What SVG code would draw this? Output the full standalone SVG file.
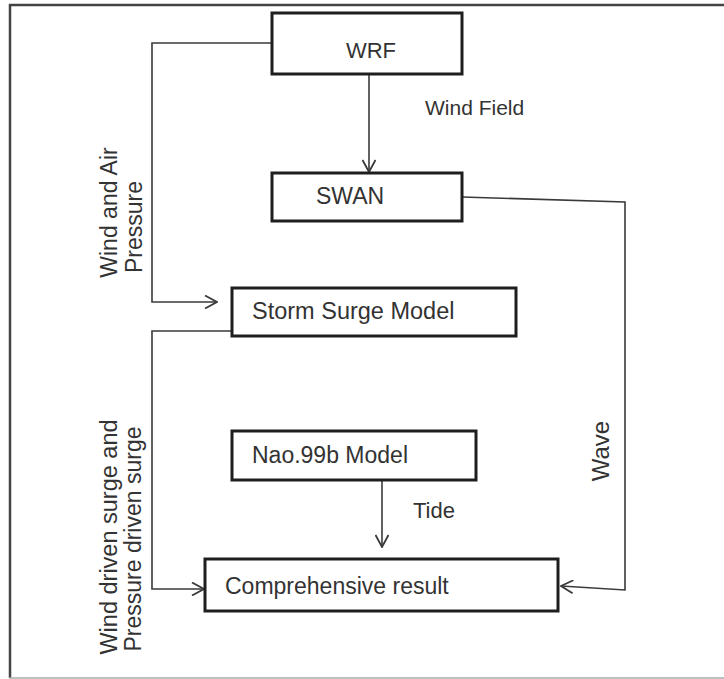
<svg xmlns="http://www.w3.org/2000/svg" width="724" height="679" viewBox="0 0 724 679">
<defs>
<marker id="arr" viewBox="0 0 14 14" refX="13" refY="7" markerWidth="14" markerHeight="14" markerUnits="userSpaceOnUse" orient="auto">
<path d="M1,0.5 L13,7 L1,13.5" fill="none" stroke="#3a3a3a" stroke-width="1.8"/>
</marker>
</defs>
<style>
.box{fill:#fff;stroke:#1e1e1e;stroke-width:3}
.lbl{font-family:"Liberation Sans",Arial,sans-serif;fill:#333;font-size:23px}
.con{fill:none;stroke:#3a3a3a;stroke-width:1.6}
</style>
<rect x="0" y="0" width="724" height="679" fill="#fff"/>
<g id="frame">
<line x1="9" y1="5" x2="724" y2="5" stroke="#444" stroke-width="2.5"/>
<line x1="10" y1="4" x2="10" y2="678" stroke="#444" stroke-width="2.5"/>
<line x1="9" y1="678" x2="724" y2="678" stroke="#aaa" stroke-width="1.5"/>
</g>
<g id="connectors">
<path class="con" d="M369,74 L369,172" marker-end="url(#arr)"/>
<path class="con" d="M272,43 L152,43 L152,302 L217,302" marker-end="url(#arr)"/>
<path class="con" d="M232,331 L152,331 L152,589 L204,589" marker-end="url(#arr)"/>
<path class="con" d="M462,197 L625,202 L625,590 L561,586" stroke-width="2" marker-end="url(#arr)"/>
<path class="con" d="M382,480 L382,547" marker-end="url(#arr)"/>
<text class="lbl" x="425" y="115" style="font-size:21px">Wind Field</text>
<text class="lbl" x="413" y="518" style="font-size:22px">Tide</text>
<text class="lbl" transform="translate(117,212.5) rotate(-90)" text-anchor="middle">Wind and Air</text>
<text class="lbl" transform="translate(142,227) rotate(-90)" text-anchor="middle">Pressure</text>
<text class="lbl" transform="translate(117,537) rotate(-90)" text-anchor="middle" style="font-size:23.5px">Wind driven surge and</text>
<text class="lbl" transform="translate(141,539) rotate(-90)" text-anchor="middle">Pressure driven surge</text>
<text class="lbl" transform="translate(609,451) rotate(-90)" text-anchor="middle" style="font-size:24px">Wave</text>
</g>
<g id="wrf">
<rect class="box" x="272" y="13" width="190" height="61"/>
<text class="lbl" x="371" y="58" text-anchor="middle" style="font-size:22px">WRF</text>
</g>
<g id="swan">
<rect class="box" x="272" y="173" width="190" height="48"/>
<text class="lbl" x="316" y="204">SWAN</text>
</g>
<g id="storm">
<rect class="box" x="232" y="288" width="284" height="48"/>
<text class="lbl" x="252" y="319" style="font-size:23.5px">Storm Surge Model</text>
</g>
<g id="nao">
<rect class="box" x="232" y="431" width="244" height="49"/>
<text class="lbl" x="252" y="463">Nao.99b Model</text>
</g>
<g id="comp">
<rect class="box" x="205" y="559" width="353" height="52"/>
<text class="lbl" x="225" y="594">Comprehensive result</text>
</g>
</svg>
